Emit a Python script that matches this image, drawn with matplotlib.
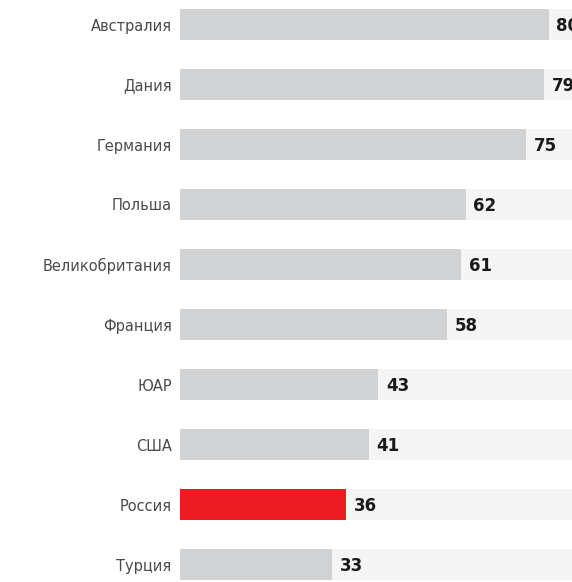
import matplotlib
matplotlib.use("Agg")
import matplotlib.pyplot as plt

plt.rcParams["font.family"] = ["DejaVu Sans"]

countries = ["Австралия", "Дания", "Германия", "Польша", "Великобритания",
             "Франция", "ЮАР", "США", "Россия", "Турция"]
values = [80, 79, 75, 62, 61, 58, 43, 41, 36, 33]
highlight = "Россия"
track_max = 100

fig = plt.figure(figsize=(5.72, 5.82), dpi=100)
ax = fig.add_axes([180 / 572, 0, 1 - 180 / 572, 1])

ypos = list(range(len(countries)))
colors = ["#ed1c24" if c == highlight else "#d1d2d4" for c in countries]

ax.barh(ypos, [track_max] * len(values), height=0.517, color="#f5f5f5", left=0)
ax.barh(ypos, values, height=0.517, color=colors)

for y, v in zip(ypos, values):
    ax.annotate(str(v), (v, y), xytext=(5.5, -1), textcoords="offset points",
                ha="left", va="center", fontsize=12, fontweight="bold",
                color="#1a1a1a", annotation_clip=False)

ax.set_xlim(0, (572 - 180) / 4.61)
ax.set_ylim(-24.5 / 60 + 582 / 60, -24.5 / 60)
ax.set_yticks(ypos)
ax.set_yticklabels(countries, fontsize=10.5, color="#4a4a4a")
ax.tick_params(axis="y", length=0, pad=6)
ax.set_xticks([])
for s in ax.spines.values():
    s.set_visible(False)

fig.savefig("out.png", dpi=100)
